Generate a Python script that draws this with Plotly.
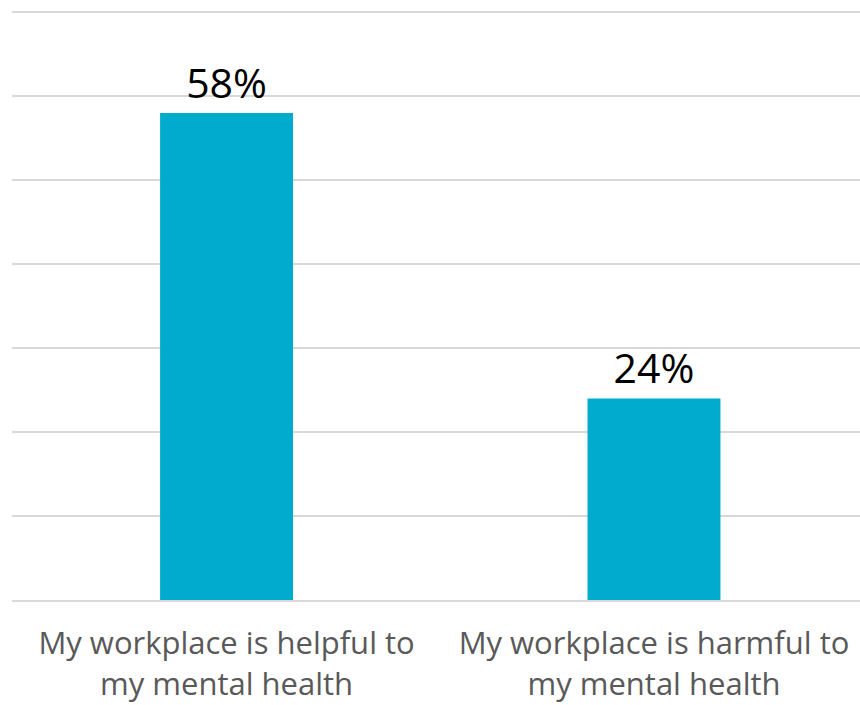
import plotly.graph_objects as go

categories = ["My workplace is helpful to<br>my mental health",
              "My workplace is harmful to<br>my mental health"]
values = [58, 24]
value_labels = ["58%", "24%"]

fig = go.Figure(go.Bar(
    x=categories, y=values,
    width=0.311,
    marker=dict(color="#00ABCE", line=dict(width=0)),
    text=value_labels, textposition="outside",
    textfont=dict(family="Open Sans", size=41, color="#000000"),
    cliponaxis=False,
))

fig.update_layout(
    width=860, height=705,
    margin=dict(l=12, r=0, t=8, b=105, autoexpand=False),
    paper_bgcolor="white", plot_bgcolor="white",
    showlegend=False,
    font=dict(family="Open Sans"),
)
fig.update_yaxes(range=[0, 70.5], dtick=10, showticklabels=False,
                 showgrid=True, gridcolor="#D9D9D9", gridwidth=2,
                 zeroline=False, showline=False, automargin=False)
fig.update_xaxes(range=[-0.502, 1.482], automargin=False,
                 showline=True, linecolor="#D9D9D9", linewidth=2,
                 tickfont=dict(family="Open Sans", size=31, color="#595959"),
                 ticks="", ticklabelstandoff=15)

fig.write_html("out.html",
               config={"displayModeBar": False},
               post_script="document.body.style.margin='0';document.body.style.padding='0';")
